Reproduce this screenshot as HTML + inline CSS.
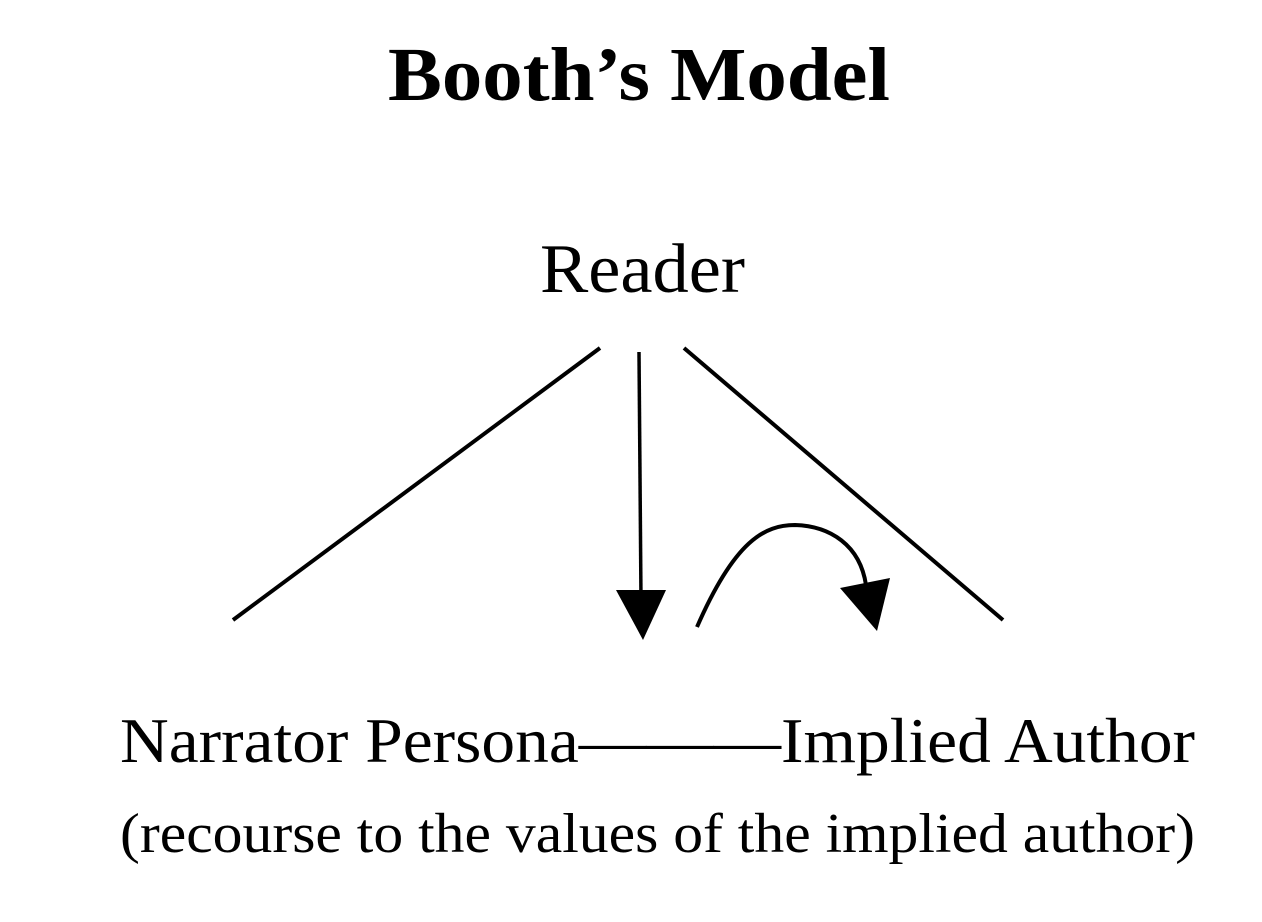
<!DOCTYPE html>
<html><head><meta charset="utf-8"><style>
html,body{margin:0;padding:0;background:#fff;}
svg{display:block;}
text{font-family:"Liberation Serif",serif;fill:#000;}
</style></head><body>
<svg width="1262" height="922" viewBox="0 0 1262 922" xmlns="http://www.w3.org/2000/svg">
<text x="388" y="100" font-size="76" font-weight="bold" textLength="502" lengthAdjust="spacingAndGlyphs">Booth’s Model</text>
<text x="540" y="292" font-size="70" textLength="205" lengthAdjust="spacingAndGlyphs">Reader</text>
<line x1="600" y1="348" x2="233" y2="620" stroke="#000" stroke-width="4"/>
<line x1="684" y1="348" x2="1003" y2="620" stroke="#000" stroke-width="4"/>
<line x1="639" y1="352" x2="641" y2="600" stroke="#000" stroke-width="3.5"/>
<polygon points="616,590 666,590 643,640" fill="#000"/>
<path d="M697,627 C735,540 765,525 795,525 C830,526 860,545 866,585" fill="none" stroke="#000" stroke-width="4"/>
<polygon points="840,588 890,578 877,631" fill="#000"/>
<text x="120" y="762" font-size="64" textLength="1075" lengthAdjust="spacingAndGlyphs">Narrator Persona———Implied Author</text>
<text x="120" y="852" font-size="56" textLength="1075" lengthAdjust="spacingAndGlyphs">(recourse to the values of the implied author)</text>
</svg>
</body></html>
